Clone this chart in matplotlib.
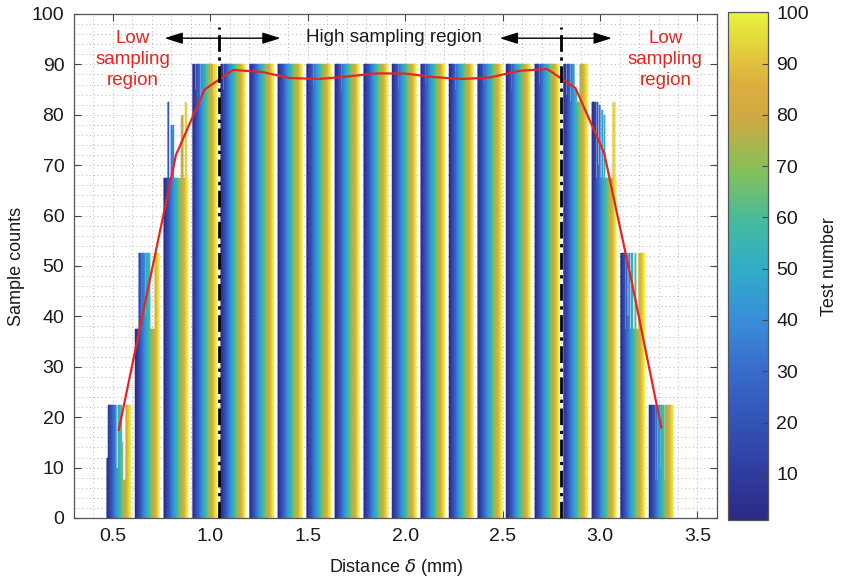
import numpy as np
import matplotlib
matplotlib.use("Agg")
import matplotlib.pyplot as plt
from matplotlib.colors import LinearSegmentedColormap, Normalize
from matplotlib.ticker import MultipleLocator, FormatStrFormatter
import matplotlib.cm as cm

plt.rcParams['font.family'] = ['Liberation Sans', 'DejaVu Sans']
plt.rcParams['mathtext.fontset'] = 'dejavusans'

# ---------------- data ----------------
distances = [0.530, 0.677, 0.823, 0.970, 1.116, 1.263, 1.409, 1.556, 1.702, 1.849,
             1.995, 2.142, 2.288, 2.435, 2.581, 2.728, 2.874, 3.021, 3.167, 3.314]
n_tests = 100
test_numbers = list(range(1, n_tests + 1))

# run-length sample counts per distance: (last test number of run, count)
runs_g00 = [(6, 12), (40, 22.5), (47, 10), (62, 22.5), (66, 15), (80, 7.5), (100, 22.5)]
runs_g01 = [(14, 37.5), (24, 52.5), (27, 37.5), (39, 52.5), (43, 40), (60, 52.5), (81, 37.5), (100, 52.5)]
runs_g02 = [(17, 67.5), (20, 82.5), (30, 67.5), (33, 78), (36, 77), (40, 78), (73, 67.5),
            (76, 79.5), (80, 80), (89, 67.5), (92, 82.5), (95, 82), (100, 67.5)]
runs_g03 = [(11, 90), (16, 85), (29, 90), (34, 82.5), (84, 90), (88, 84), (100, 90)]
runs_g04 = [(9, 90), (13, 85), (100, 90)]
runs_g05 = [(21, 90), (24, 86), (100, 90)]
runs_g06 = [(19, 90), (22, 85), (100, 90)]
runs_g07 = [(27, 90), (30, 86), (100, 90)]
runs_g08 = [(26, 90), (29, 85), (100, 90)]
runs_g09 = [(20, 90), (23, 86), (100, 90)]
runs_g10 = [(24, 90), (27, 85), (100, 90)]
runs_g11 = [(18, 90), (21, 86), (100, 90)]
runs_g12 = [(25, 90), (28, 85), (100, 90)]
runs_g13 = [(22, 90), (25, 86), (100, 90)]
runs_g14 = [(20, 90), (23, 85), (100, 90)]
runs_g15 = [(17, 90), (20, 86), (100, 90)]
runs_g16 = [(10, 90), (15, 84), (25, 90), (30, 82.5), (45, 90), (55, 85), (68, 82.5), (100, 90)]
runs_g17 = [(14, 82.5), (20, 67.5), (24, 82.5), (30, 70), (34, 82), (40, 67.5), (44, 81),
            (50, 67.5), (53, 80), (85, 67.5), (88, 82.5), (91, 67.5), (96, 82.5), (100, 67.5)]
runs_g18 = [(20, 52.5), (24, 37.5), (28, 52.5), (33, 40), (38, 52.5), (45, 37.5), (50, 52.5),
            (60, 37.5), (64, 52.5), (75, 37.5), (100, 52.5)]
runs_g19 = [(25, 22.5), (28, 7.5), (34, 22.5), (38, 7.5), (45, 22.5), (48, 10), (60, 22.5),
            (64, 7.5), (100, 22.5)]
group_runs = [runs_g00, runs_g01, runs_g02, runs_g03, runs_g04, runs_g05, runs_g06, runs_g07,
              runs_g08, runs_g09, runs_g10, runs_g11, runs_g12, runs_g13, runs_g14, runs_g15,
              runs_g16, runs_g17, runs_g18, runs_g19]

mean_counts = [17.5, 45, 72, 85, 88.9, 88.5, 87.3, 87.1, 87.6, 88.2,
               88.2, 87.5, 87.1, 87.4, 88.7, 89.1, 85.3, 72.4, 46, 18]

region_bounds = [1.043, 2.801]
xticks = [0.5, 1.0, 1.5, 2.0, 2.5, 3.0, 3.5]
yticks = [0, 10, 20, 30, 40, 50, 60, 70, 80, 90, 100]
cbar_ticks = [10, 20, 30, 40, 50, 60, 70, 80, 90, 100]

# ---------------- helpers ----------------
def expand(runs):
    out = []
    start = 1
    for end, val in runs:
        out.extend([val] * (end - start + 1))
        start = end + 1
    return out

parula_like = LinearSegmentedColormap.from_list(
    'parula_like',
    [(0.00, '#2c2a86'), (0.09, '#2f3c9f'), (0.19, '#3352b6'), (0.29, '#386bcc'),
     (0.39, '#398cd8'), (0.49, '#31abca'), (0.59, '#45bb9c'), (0.69, '#86c05a'),
     (0.79, '#cdaa43'), (0.86, '#dcae40'), (0.93, '#e2cf3a'), (1.00, '#e8f33c')])
norm = Normalize(vmin=1, vmax=100)

fig = plt.figure(figsize=(8.43, 5.83), dpi=100)
ax = fig.add_axes([0.0878, 0.1115, 0.7627, 0.8645])
cax = fig.add_axes([0.8636, 0.108, 0.0474, 0.871])

group_width = 0.123
bar_w = group_width / n_tests
tests = np.array(test_numbers)
offsets = (tests - (n_tests + 1) / 2) * bar_w
colors = parula_like(norm(tests))

for d, runs in zip(distances, group_runs):
    h = expand(runs)
    ax.bar(d + offsets, h, width=bar_w, color=colors, edgecolor=colors,
           linewidth=0.35, zorder=2)

ax.plot(distances, mean_counts, color='#e3261f', lw=1.6, zorder=4)

for xb in region_bounds:
    ax.plot([xb, xb], [0, 97.5], color='black', lw=2.0, ls=(0, (6, 2, 1.2, 2)), zorder=5)

# arrows and annotations
arrow_kw = dict(arrowstyle='<|-|>,head_length=1.1,head_width=0.35', color='black', lw=1.0,
                shrinkA=0, shrinkB=0)
ax.annotate('', xy=(0.765, 95.2), xytext=(1.36, 95.2), arrowprops=arrow_kw, zorder=6)
ax.annotate('', xy=(2.485, 95.2), xytext=(3.06, 95.2), arrowprops=arrow_kw, zorder=6)
ax.text(1.94, 95.3, 'High sampling region', ha='center', va='center', fontsize=13.5, color='#1a1a1a')
ax.text(0.6, 90.9, 'Low\nsampling\nregion', ha='center', va='center', fontsize=13.5,
        color='#e3261f', linespacing=1.3)
ax.text(3.335, 90.9, 'Low\nsampling\nregion', ha='center', va='center', fontsize=13.5,
        color='#e3261f', linespacing=1.3)

ax.set_xlim(0.3, 3.6)
ax.set_ylim(0, 100)
ax.set_xticks(xticks)
ax.xaxis.set_major_formatter(FormatStrFormatter('%.1f'))
ax.set_yticks(yticks)
ax.xaxis.set_minor_locator(MultipleLocator(0.1))
ax.yaxis.set_minor_locator(MultipleLocator(2))
ax.grid(True, which='both', ls=(0, (1, 3)), color='#b5b5b5', lw=0.7, zorder=0)
ax.set_axisbelow(True)
ax.tick_params(which='major', direction='in', top=True, right=True, length=5,
               labelsize=14, color='#444444', labelcolor='#1a1a1a', pad=7)
ax.tick_params(which='minor', length=0)
for s in ax.spines.values():
    s.set_color('#555555')
    s.set_linewidth(0.9)
ax.set_xlabel('Distance $\\delta$ (mm)', fontsize=13, color='#1a1a1a', labelpad=9)
ax.set_ylabel('Sample counts', fontsize=13, color='#1a1a1a', labelpad=5)

sm = cm.ScalarMappable(norm=norm, cmap=parula_like)
cb = fig.colorbar(sm, cax=cax)
cb.set_ticks(cbar_ticks)
cb.ax.tick_params(direction='in', length=4, labelsize=14, color='#444444', labelcolor='#1a1a1a', pad=6)
cb.outline.set_edgecolor('#555555')
cb.outline.set_linewidth(0.9)
cb.set_label('Test number', fontsize=13, color='#1a1a1a', labelpad=9)

fig.savefig('out.png', dpi=100)
